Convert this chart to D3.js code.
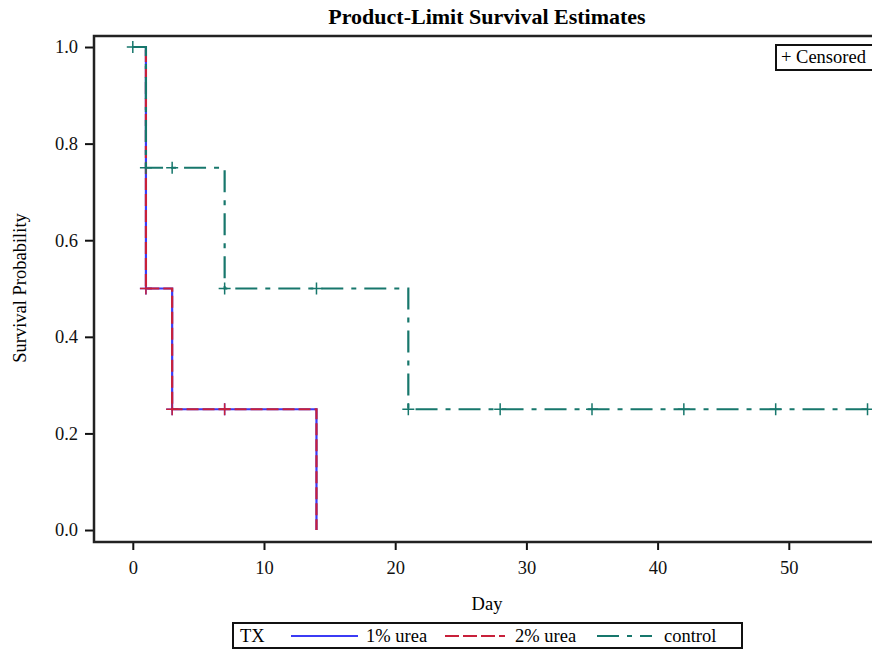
<!DOCTYPE html>
<html><head><meta charset="utf-8">
<script src="https://cdn.jsdelivr.net/npm/d3@7"></script>
<style>body{margin:0;background:#fff}svg{display:block}text{font-family:"Liberation Serif","Times New Roman",serif}</style>
</head><body>
<svg id="c" width="872" height="649"></svg>
<script>
// ---- data ----
const groups = ["1% urea", "2% urea", "control"];
const ureaTimes = [0, 1, 3, 14];
const ureaSurv  = [1, 0.5, 0.25, 0];
const ureaEnd = 14;
const ureaCensorTimes = [1, 3, 7];
const ureaCensorSurv  = [0.5, 0.25, 0.25];
const ctrlTimes = [0, 1, 7, 21];
const ctrlSurv  = [1, 0.75, 0.5, 0.25];
const ctrlEnd = 56;
const ctrlCensorTimes = [0, 1, 3, 7, 14, 21, 28, 35, 42, 49, 56];
const ctrlCensorSurv  = [1, 0.75, 0.75, 0.5, 0.5, 0.25, 0.25, 0.25, 0.25, 0.25, 0.25];
const xTicks = [0, 10, 20, 30, 40, 50];
const yTicks = [0, 0.2, 0.4, 0.6, 0.8, 1.0];

const colors = {"1% urea": "#3b3bf5", "2% urea": "#c8203a", "control": "#17776c"};
const dashes = {"1% urea": null, "2% urea": "12,4", "control": "22,8,5,8"};

function steps(times, surv, end) {
  const pts = times.map((t, i) => [t, surv[i]]);
  if (end > times[times.length - 1]) pts.push([end, surv[surv.length - 1]]);
  return pts;
}
const series = [
  {name: "1% urea", pts: steps(ureaTimes, ureaSurv, ureaEnd), cens: ureaCensorTimes.map((t, i) => [t, ureaCensorSurv[i]])},
  {name: "2% urea", pts: steps(ureaTimes, ureaSurv, ureaEnd), cens: ureaCensorTimes.map((t, i) => [t, ureaCensorSurv[i]])},
  {name: "control", pts: steps(ctrlTimes, ctrlSurv, ctrlEnd), cens: ctrlCensorTimes.map((t, i) => [t, ctrlCensorSurv[i]])}
];

const svg = d3.select("#c");
const pLeft = 94, pTop = 36, pBottom = 542;
const x = d3.scaleLinear().domain([0, 50]).range([132.8, 132.8 + 50 * 13.12]);
const y = d3.scaleLinear().domain([-0.0248, 1.0228]).range([pBottom, pTop]);
const fs = 18.5;

// title
svg.append("text").attr("x", 487).attr("y", 24).attr("text-anchor", "middle")
  .attr("font-size", 22).attr("font-weight", "bold").text("Product-Limit Survival Estimates");

// axes
const xAxis = svg.append("g").attr("transform", `translate(0,${pBottom})`)
  .call(d3.axisBottom(x).tickValues(xTicks).tickSize(8).tickPadding(11).tickFormat(d3.format("d")));
const yAxis = svg.append("g").attr("transform", `translate(${pLeft},0)`)
  .call(d3.axisLeft(y).tickValues(yTicks).tickSize(9).tickPadding(7).tickFormat(d3.format(".1f")));
[xAxis, yAxis].forEach(g => {
  g.select(".domain").remove();
  g.selectAll("line").attr("stroke", "#111").attr("stroke-width", 2);
  g.selectAll("text").attr("font-size", fs).attr("fill", "#111")
    .style("font-family", '"Liberation Serif", serif');
});

// clip
svg.append("clipPath").attr("id", "clip").append("rect")
  .attr("x", pLeft).attr("y", pTop).attr("width", 900).attr("height", pBottom - pTop);

const line = d3.line().x(d => x(d[0])).y(d => y(d[1])).curve(d3.curveStepAfter);
const plot = svg.append("g").attr("clip-path", "url(#clip)");
series.forEach(s => {
  plot.append("path").datum(s.pts).attr("d", line).attr("fill", "none")
    .attr("stroke", colors[s.name]).attr("stroke-width", 2.2)
    .attr("stroke-dasharray", dashes[s.name]);
  plot.selectAll(null).data(s.cens).enter().append("path")
    .attr("d", d => `M${x(d[0]) - 6},${y(d[1])}h12M${x(d[0])},${y(d[1]) - 6}v12`)
    .attr("stroke", colors[s.name]).attr("stroke-width", 1.5).attr("fill", "none");
});

// frame
svg.append("rect").attr("x", pLeft).attr("y", pTop).attr("width", 900).attr("height", pBottom - pTop)
  .attr("fill", "none").attr("stroke", "#222").attr("stroke-width", 2.5);

// axis labels
svg.append("text").attr("x", 487).attr("y", 610).attr("text-anchor", "middle").attr("font-size", fs).text("Day");
svg.append("text").attr("transform", "translate(26,288) rotate(-90)").attr("text-anchor", "middle")
  .attr("font-size", fs).text("Survival Probability");

// censored legend
svg.append("rect").attr("x", 776).attr("y", 45).attr("width", 120).attr("height", 25)
  .attr("fill", "#fff").attr("stroke", "#111").attr("stroke-width", 2);
svg.append("text").attr("x", 781).attr("y", 63).attr("font-size", fs).text("+ Censored");

// group legend
svg.append("rect").attr("x", 233).attr("y", 623).attr("width", 509).attr("height", 25)
  .attr("fill", "#fff").attr("stroke", "#111").attr("stroke-width", 2);
svg.append("text").attr("x", 240).attr("y", 642).attr("font-size", fs).text("TX");
const legX = [291, 445, 597];
const legLen = [67, 60, 55];
const labX = [366, 515, 664];
groups.forEach((g, i) => {
  svg.append("line").attr("x1", legX[i]).attr("x2", legX[i] + legLen[i]).attr("y1", 636).attr("y2", 636)
    .attr("stroke", colors[g]).attr("stroke-width", 2).attr("stroke-dasharray", g === "2% urea" ? "14,4" : dashes[g]);
  svg.append("text").attr("x", labX[i]).attr("y", 642).attr("font-size", fs).text(g);
});
</script>
</body></html>
